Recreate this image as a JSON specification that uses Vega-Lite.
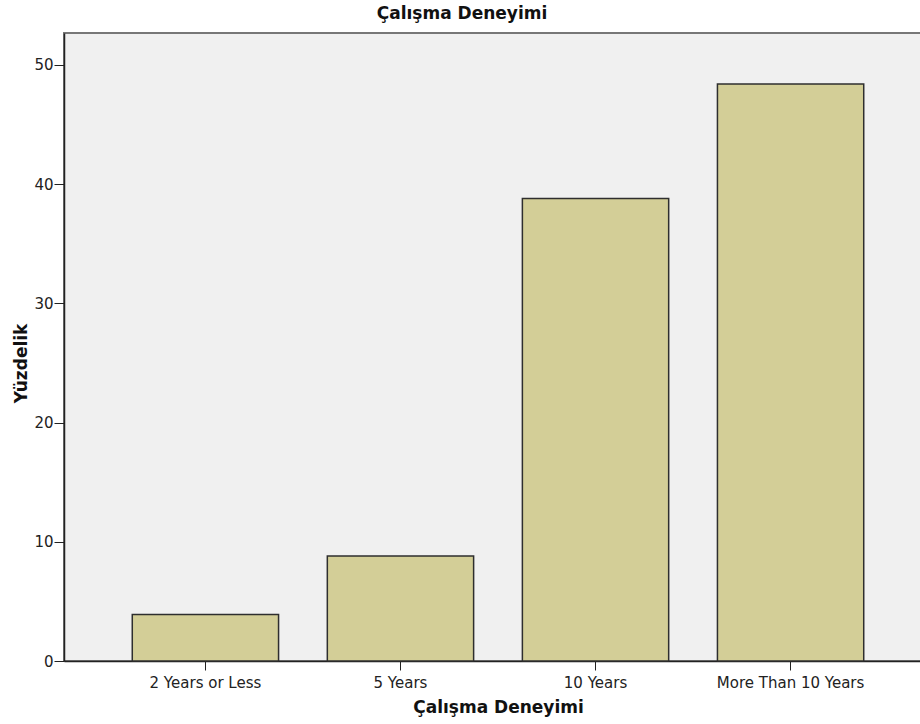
{
  "$schema": "https://vega.github.io/schema/vega-lite/v6.json",
  "width": 868,
  "height": 628,
  "autosize": {"type": "none"},
  "padding": {"left": 64, "top": 33, "right": 0, "bottom": 63},
  "background": "white",
  "title": {
    "text": "Çalışma Deneyimi",
    "font": "DejaVu Sans",
    "fontSize": 17,
    "fontWeight": "bold",
    "color": "#111111",
    "anchor": "middle",
    "dx": -36,
    "offset": 10
  },
  "data": {
    "values": [
      {"deneyim": "2 Years or Less", "yuzde": 3.9},
      {"deneyim": "5 Years", "yuzde": 8.8},
      {"deneyim": "10 Years", "yuzde": 38.8},
      {"deneyim": "More Than 10 Years", "yuzde": 48.4}
    ]
  },
  "mark": {
    "type": "bar",
    "fill": "#d3ce97",
    "stroke": "#2e2e2e",
    "strokeWidth": 1.5
  },
  "encoding": {
    "x": {
      "field": "deneyim",
      "type": "nominal",
      "sort": ["2 Years or Less", "5 Years", "10 Years", "More Than 10 Years"],
      "scale": {"paddingInner": 0.25, "paddingOuter": 0.35},
      "axis": {
        "title": "Çalışma Deneyimi",
        "titleFont": "DejaVu Sans",
        "titleFontSize": 17,
        "titleFontWeight": "bold",
        "titleColor": "#111111",
        "titlePadding": 9,
        "labelAngle": 0,
        "labelFont": "DejaVu Sans",
        "labelFontSize": 15,
        "labelColor": "#222222",
        "labelPadding": 5,
        "tickSize": 9,
        "tickColor": "#222222",
        "domainColor": "#222222",
        "domainWidth": 1.5
      }
    },
    "y": {
      "field": "yuzde",
      "type": "quantitative",
      "scale": {"domain": [0, 52.68], "nice": false},
      "axis": {
        "title": "Yüzdelik",
        "titleFont": "DejaVu Sans",
        "titleFontSize": 17,
        "titleFontWeight": "bold",
        "titleColor": "#111111",
        "titlePadding": 3,
        "titleY": 330,
        "values": [0, 10, 20, 30, 40, 50],
        "grid": false,
        "labelFont": "DejaVu Sans",
        "labelFontSize": 15,
        "labelColor": "#222222",
        "labelPadding": 1,
        "tickSize": 10,
        "tickColor": "#222222",
        "domainColor": "#222222",
        "domainWidth": 1.5
      }
    }
  },
  "config": {
    "view": {"fill": "#f0f0f0", "stroke": "#777777", "strokeWidth": 2}
  }
}
